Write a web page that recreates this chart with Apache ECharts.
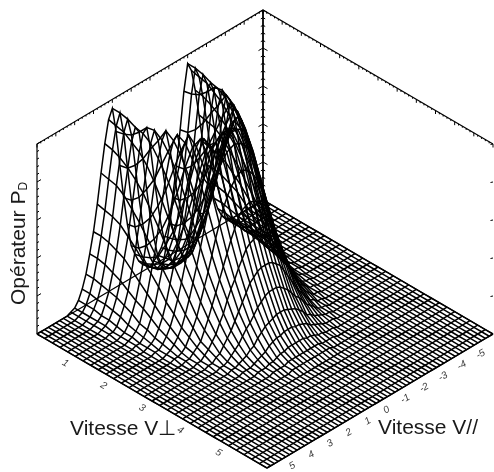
<!DOCTYPE html>
<html><head><meta charset="utf-8">
<style>html,body{margin:0;padding:0;background:#fff}#c{width:494px;height:472px}</style>
<script src="https://cdn.jsdelivr.net/npm/echarts@6/dist/echarts.min.js"></script>
</head><body><div id="c"></div>
<script>
// V⊥ = 0, 0.2, ... 6 (rows); V// = 0, 0.2, ... 6 (columns, surface mirrors about V//=0).
// Values in % of the crest; omitted trailing cells and rows are 0.
var vPerpStep = 0.2, vParStep = 0.2, vPerpMax = 6, vParMax = 6, zMax = 105;
var operatorRows = [
[0,2,4,7,12,18,31,47,66,86,100,95,83,68,52,38,27,17,10,5,2,1],
[2,3,5,8,13,19,32,48,67,87,100,94,82,67,51,38,27,17,10,5,2,1],
[4,5,6,10,15,23,36,52,71,89,99,93,80,66,50,37,26,16,9,5,2,1],
[7,8,10,13,18,29,42,59,77,93,97,90,77,63,48,35,24,15,9,4,2,1],
[12,13,15,18,27,37,51,67,85,98,96,87,73,58,44,33,22,14,8,4,2,1],
[18,19,23,29,37,48,62,78,92,99,93,82,68,53,40,29,19,12,7,3,1,1],
[31,32,36,42,51,62,76,89,100,96,87,75,61,47,35,25,16,10,5,2,1],
[47,48,52,59,67,78,89,99,97,90,80,67,54,41,31,21,14,7,4,2,1],
[66,67,71,77,85,92,100,97,91,82,71,58,46,35,26,17,11,6,3,1,1],
[86,87,89,93,98,99,96,90,82,72,61,49,38,29,20,13,8,4,2,1],
[100,100,99,97,96,93,87,80,71,61,50,40,31,23,16,10,6,3,1,1],
[95,94,93,90,87,82,75,67,58,49,40,32,24,17,11,7,4,2,1],
[83,82,80,77,73,68,61,54,46,38,31,24,17,12,8,4,2,1,1],
[68,67,66,63,58,53,47,41,35,29,23,17,12,7,5,3,1,1],
[52,51,50,48,44,40,35,31,26,20,16,11,8,5,3,1,1],
[38,38,37,35,33,29,25,21,17,13,10,7,4,3,1,1],
[27,27,26,24,22,19,16,14,11,8,6,4,2,1,1],
[17,17,16,15,14,12,10,7,6,4,3,2,1,1],
[10,10,9,9,8,7,5,4,3,2,1,1,1],
[5,5,5,4,4,3,2,2,1,1,1],
[2,2,2,2,2,1,1,1,1],
[1,1,1,1,1,1]
];
var vPerpTicks = [1,2,3,4,5];
var vParTicks = [5,4,3,2,1,0,-1,-2,-3,-4,-5];

// Oblique projection of the plot box on the page
var origin = [37,334], perpSpan = [230,134], parSpan = [226,-134], zSpan = 190;
function project(vPerp, vPar, z){
  var a = vPerp/vPerpMax, b = (vParMax - vPar)/(2*vParMax);
  return [origin[0]+a*perpSpan[0]+b*parSpan[0], origin[1]+a*perpSpan[1]+b*parSpan[1]-z/zMax*zSpan];
}
function cell(i,j){ var r = operatorRows[i]; var k = Math.abs(j); return r && r[k]!==undefined ? r[k] : 0; }
var nPerp = Math.round(vPerpMax/vPerpStep), nPar = Math.round(vParMax/vParStep);
var mesh = [];
for (var i=0;i<=nPerp;i++){ var row=[]; for (var j=-nPar;j<=nPar;j++) row.push(project(i*vPerpStep,-j*vParStep,cell(i,j))); mesh.push({coords:row}); }
for (var j=-nPar;j<=nPar;j++){ var col=[]; for (var i=0;i<=nPerp;i++) col.push(project(i*vPerpStep,-j*vParStep,cell(i,j))); mesh.push({coords:col}); }

function seg(p,d){ return {coords:[p,[p[0]+d[0],p[1]+d[1]]]}; }
var frame = [
 {coords:[project(0,vParMax,0),project(0,vParMax,zMax),project(0,-vParMax,zMax),project(vPerpMax,-vParMax,zMax)]},
 {coords:[project(0,vParMax,0),project(0,-vParMax,0),project(vPerpMax,-vParMax,0)]},
 {coords:[project(0,vParMax,0),project(vPerpMax,vParMax,0),project(vPerpMax,-vParMax,0)]}
];
var backEdge = [{coords:[project(0,-vParMax,0),project(0,-vParMax,zMax)]}];
var ticks = [];
// top edges
for (var k=0;k<=60;k++){ var major=k%5===0; ticks.push(seg(project(0,vParMax-k*0.2,zMax),[0,major?3.5:1.6])); }
for (var k=0;k<=60;k++){ var major=k%5===0; ticks.push(seg(project(k*0.1,-vParMax,zMax),[0,major?3.5:1.6])); }
// vertical axes
for (var k=0;k<=25;k++){ var major=k%5===0, z=k*zMax/25;
  ticks.push(seg(project(0,vParMax,z),major?[4,-2.4]:[2,-1.2]));
  ticks.push(seg(project(0,-vParMax,z),major?[4.5,2.6]:[2.2,1.3]));
  ticks.push(seg(project(0,-vParMax,z),major?[-4.5,2.6]:[-2.2,1.3]));
  if (major) ticks.push(seg(project(vPerpMax,-vParMax,z),[-2.5,0.5]));
}
// floor ticks
vPerpTicks.forEach(function(u){ ticks.push(seg(project(u,vParMax,0),[3.5,-2])); });
vParTicks.forEach(function(v){ ticks.push(seg(project(vPerpMax,v,0),[-3.5,-2])); });

var perpLabels = vPerpTicks.map(function(u){ var p=project(u,vParMax,0); return {value:[p[0]-10,p[1]+7],name:String(u)}; });
var parLabels = vParTicks.map(function(v){ var p=project(vPerpMax,v,0); return {value:[p[0]+6.5,p[1]+9],name:String(v)}; });
function labelSeries(data,rot){ return {type:'scatter',data:data,symbolSize:1,itemStyle:{color:'rgba(0,0,0,0)'},silent:true,
  label:{show:true,position:'inside',formatter:'{b}',rotate:rot,fontFamily:'Liberation Sans',fontStyle:'italic',fontSize:10,color:'#000'}}; }

var chart = echarts.init(document.getElementById('c'),null,{renderer:'canvas'});
var titleFont = {fontFamily:'Liberation Sans',fontSize:21,fill:'#1a1a1a'};
chart.setOption({
 animation:false, backgroundColor:'#fff',
 grid:{left:0,right:0,top:0,bottom:0},
 xAxis:{type:'value',min:0,max:494,show:false},
 yAxis:{type:'value',min:0,max:472,inverse:true,show:false},
 series:[
  {type:'lines',coordinateSystem:'cartesian2d',polyline:true,silent:true,data:frame,lineStyle:{color:'#000',width:1.2,opacity:1}},
  {type:'lines',coordinateSystem:'cartesian2d',polyline:true,silent:true,data:backEdge,lineStyle:{color:'#000',width:1.8,opacity:1}},
  {type:'lines',coordinateSystem:'cartesian2d',polyline:true,silent:true,data:ticks,lineStyle:{color:'#000',width:1,opacity:1}},
  {type:'lines',coordinateSystem:'cartesian2d',polyline:true,silent:true,data:mesh,lineStyle:{color:'#000',width:1.5,opacity:1}},
  labelSeries(perpLabels,-30),
  labelSeries(parLabels,30)
 ],
 graphic:[
  {type:'text',left:70,top:419,style:Object.assign({text:'Vitesse V⊥'},titleFont)},
  {type:'text',left:378,top:418,style:Object.assign({text:'Vitesse V//'},titleFont)},
  {type:'text',x:9,y:305,rotation:Math.PI/2,style:{text:'{a|Opérateur P}{b|D}',rich:{a:{fontFamily:'Liberation Sans',fontSize:21,fill:'#1a1a1a'},b:{fontFamily:'Liberation Sans',fontSize:12,fill:'#1a1a1a',verticalAlign:'bottom',padding:[5,0,0,0]}}}}
 ]
});
</script></body></html>
